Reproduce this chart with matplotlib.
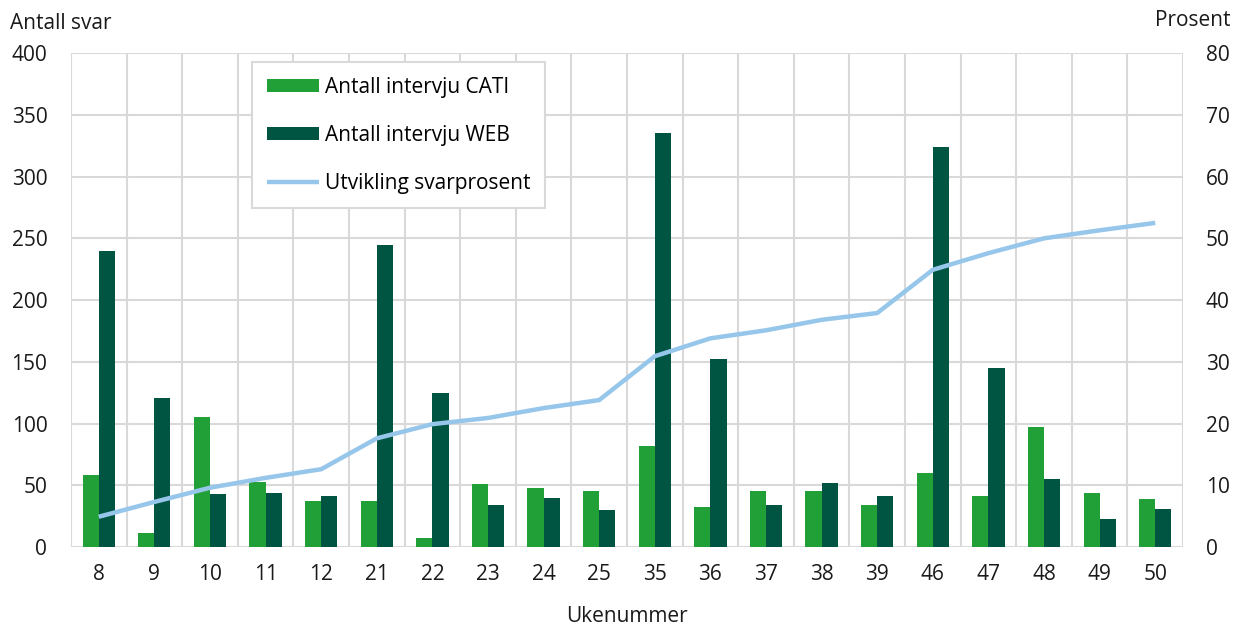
import numpy as np
import matplotlib.pyplot as plt

plt.rcParams['font.family'] = ['Open Sans', 'DejaVu Sans']

weeks = ["8", "9", "10", "11", "12", "21", "22", "23", "24", "25",
         "35", "36", "37", "38", "39", "46", "47", "48", "49", "50"]
cati = [58, 11, 105, 53, 37, 37, 7, 51, 48, 45, 82, 32, 45, 45, 34, 60, 41, 97, 44, 39]
web = [240, 121, 43, 44, 41, 245, 125, 34, 40, 30, 335, 152, 34, 52, 41, 324, 145, 55, 23, 31]
svarprosent = [4.9, 7.3, 9.6, 11.2, 12.6, 17.6, 19.9, 20.9, 22.5, 23.8,
               30.9, 33.8, 35.1, 36.8, 37.9, 44.9, 47.6, 50.0, 51.3, 52.5]

C_CATI = "#21a038"
C_WEB = "#005542"
C_LINE = "#97c6eb"
C_GRID = "#d9d9d9"
C_TEXT = "#1a1a1a"
FS = 15

fig = plt.figure(figsize=(12.34, 6.25), dpi=100)
ax = fig.add_axes([0.0575, 0.1248, 0.9012, 0.7902])
ax2 = ax.twinx()

x = np.arange(len(weeks))
w = 0.29
ax.bar(x - w / 2, cati, w, color=C_CATI, label="Antall intervju CATI", zorder=3)
ax.bar(x + w / 2, web, w, color=C_WEB, label="Antall intervju WEB", zorder=3)
ax2.plot(x, svarprosent, color=C_LINE, lw=3.2, label="Utvikling svarprosent",
         solid_capstyle="butt")

ax.set_xlim(-0.5, len(weeks) - 0.5)
ax.set_ylim(0, 400)
ax2.set_ylim(0, 80)
ax.set_yticks(range(0, 401, 50))
ax2.set_yticks(range(0, 81, 10))
ax.set_xticks(x)
ax.set_xticklabels(weeks)

# grid: horizontal at ticks, vertical at category boundaries
for yv in range(0, 401, 50):
    ax.axhline(yv, color=C_GRID, lw=1.5, zorder=0)
for xv in np.arange(-0.5, len(weeks), 1.0):
    ax.axvline(xv, color=C_GRID, lw=1.5, zorder=0)

for a in (ax, ax2):
    for s in a.spines.values():
        s.set_visible(False)
    a.tick_params(length=0, labelsize=FS, colors=C_TEXT)
ax.tick_params(axis="y", pad=17)
ax2.tick_params(axis="y", pad=16.5)
ax.tick_params(axis="x", pad=12)

ax.set_xlabel("Ukenummer", fontsize=FS, color=C_TEXT, labelpad=15)
fig.text(0.008, 0.963, "Antall svar", fontsize=FS, color=C_TEXT, ha="left", va="center")
fig.text(0.997, 0.968, "Prosent", fontsize=FS, color=C_TEXT, ha="right", va="center")

h1, l1 = ax.get_legend_handles_labels()
h2, l2 = ax2.get_legend_handles_labels()
leg = ax2.legend(h1 + h2, l1 + l2, loc="upper left", bbox_to_anchor=(0.163, 0.982),
                 borderaxespad=0, fontsize=FS, frameon=True, fancybox=False,
                 edgecolor=C_GRID, framealpha=1, handlelength=2.5, handleheight=0.6,
                 labelspacing=1.3, borderpad=0.7, handletextpad=0.3)
leg.get_frame().set_linewidth(1.5)

fig.savefig("out.png", dpi=100)
